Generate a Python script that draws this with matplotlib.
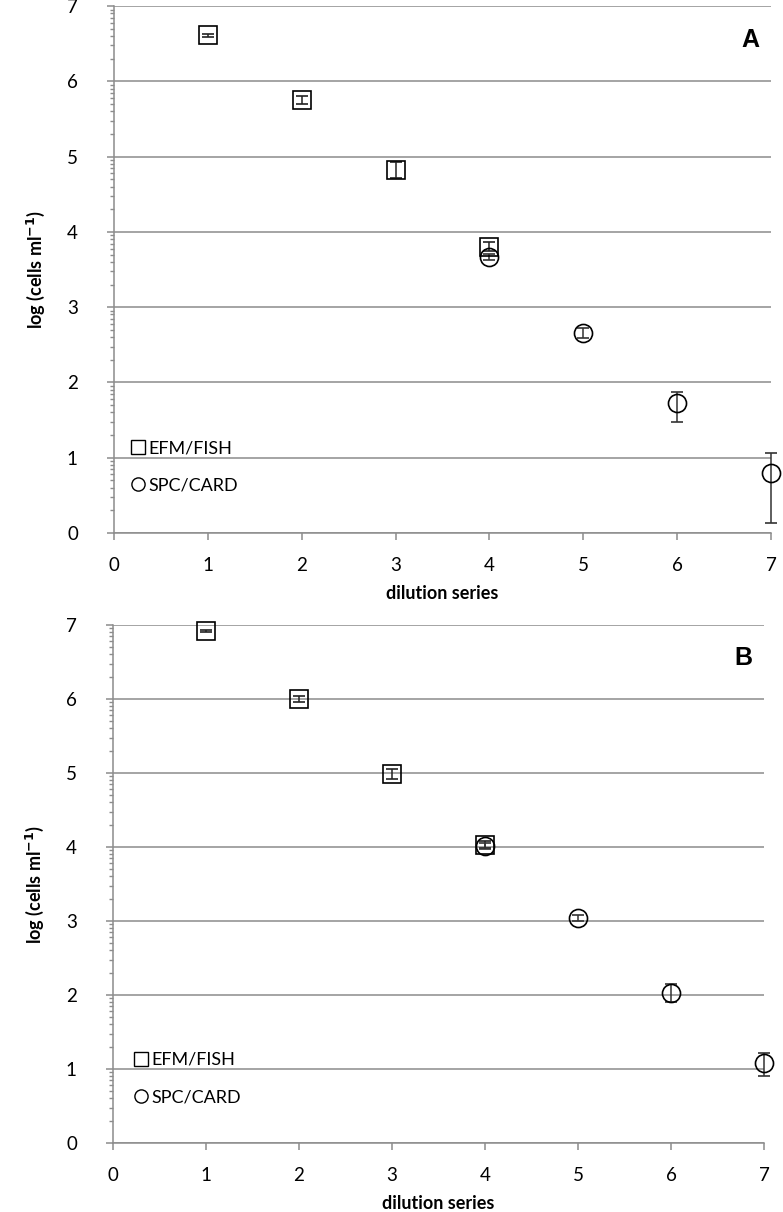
import numpy as np
import matplotlib
matplotlib.use("Agg")
import matplotlib.pyplot as plt

plt.rcParams['font.family'] = ['Lato', 'DejaVu Sans']

# panel A
a_sq_x = [1, 2, 3, 4]
a_sq_y = [6.61, 5.75, 4.82, 3.80]
a_sq_err = [0.015, 0.055, 0.105, 0.06]
a_ci_x = [4, 5, 6, 7]
a_ci_y = [3.67, 2.66, 1.73, 0.80]
a_ci_lo = [0.04, 0.07, 0.26, 0.67]
a_ci_hi = [0.04, 0.07, 0.14, 0.26]

# panel B
b_sq_x = [1, 2, 3, 4]
b_sq_y = [6.92, 6.00, 4.99, 4.03]
b_sq_err = [0.01, 0.035, 0.07, 0.045]
b_ci_x = [4, 5, 6, 7]
b_ci_y = [4.02, 3.04, 2.03, 1.08]
b_ci_lo = [0.04, 0.04, 0.13, 0.17]
b_ci_hi = [0.04, 0.04, 0.12, 0.14]

labels = ["EFM/FISH", "SPC/CARD"]
grey = "#8c8c8c"

fig = plt.figure(figsize=(7.83, 12.12), dpi=100)


def panel(rect, letter, sq_x, sq_y, sq_err, ci_x, ci_y, ci_lo, ci_hi, leg_anchor):
    ax = fig.add_axes(rect)
    ax.set_xlim(0, 7)
    ax.set_ylim(0, 7)
    ax.set_yticks(range(8))
    ax.set_xticks(range(8))
    minors = [n + np.log10(k) for n in range(7) for k in range(2, 10)]
    ax.set_yticks(minors, minor=True)
    ax.grid(axis="y", color=grey, linewidth=1.1)
    ax.set_axisbelow(True)
    for s in ["top", "right"]:
        ax.spines[s].set_visible(False)
    for s in ["left", "bottom"]:
        ax.spines[s].set_color(grey)
        ax.spines[s].set_linewidth(1.1)
    ax.tick_params(axis="y", which="major", length=5, width=1.1, color=grey,
                   pad=21, labelsize=13.5)
    ax.tick_params(axis="y", which="minor", length=3, width=1.0, color=grey)
    ax.tick_params(axis="x", which="major", length=5, width=1.1, color=grey,
                   pad=12, labelsize=13.5)

    ax.errorbar(sq_x, sq_y, yerr=sq_err, fmt="s", ms=13, mfc="none", mec="black",
                mew=1.2, ecolor="#222222", elinewidth=1.1, capsize=4.5,
                capthick=1.1, clip_on=False, zorder=3)
    ax.errorbar(ci_x, ci_y, yerr=[ci_lo, ci_hi], fmt="o", ms=13, mfc="none",
                mec="black", mew=1.2, ecolor="#333333", elinewidth=1.1,
                capsize=4.5, capthick=1.1, clip_on=False, zorder=3)

    h1, = ax.plot([], [], "s", ms=9.5, mfc="none", mec="black", mew=1.0)
    h2, = ax.plot([], [], "o", ms=9.5, mfc="none", mec="black", mew=1.0)
    ax.legend([h1, h2], labels, loc="upper left", bbox_to_anchor=leg_anchor,
              frameon=False, handlelength=0.6, handletextpad=0.25,
              borderaxespad=0, labelspacing=1.2, fontsize=13)

    ax.text(6.78, 6.55, letter, fontsize=18, fontweight="bold",
            family="Liberation Sans", ha="center", va="center")
    ax.set_xlabel("dilution series", fontsize=13, fontweight="bold", labelpad=8)
    ax.set_ylabel("log (cells ml$^{\\mathbf{-1}}$)", fontsize=13,
                  fontweight="bold", labelpad=14)
    return ax


panel([0.1456, 0.5602, 0.8391, 0.4348], "A", a_sq_x, a_sq_y, a_sq_err,
      a_ci_x, a_ci_y, a_ci_lo, a_ci_hi, (0.018, 0.19))
panel([0.1443, 0.0569, 0.8314, 0.4274], "B", b_sq_x, b_sq_y, b_sq_err,
      b_ci_x, b_ci_y, b_ci_lo, b_ci_hi, (0.024, 0.19))

fig.savefig("out.png", dpi=100)
